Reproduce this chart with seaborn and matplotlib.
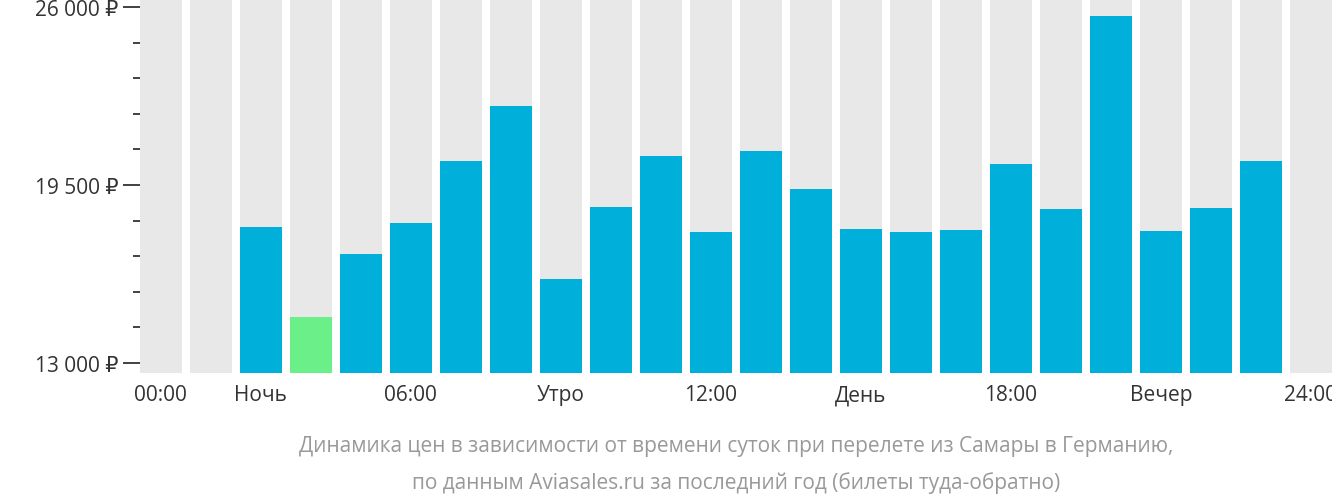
import numpy as np
import pandas as pd
import matplotlib
matplotlib.use('Agg')
import matplotlib.pyplot as plt
import seaborn as sns

plt.rcParams['font.family'] = ['Open Sans', 'DejaVu Sans']

hours = list(range(24))
prices = [np.nan, np.nan, 17960, 14690, 16970, 18100, 20380, 22400, 16050, 18690,
          20570, 17770, 20750, 19350, 17880, 17770, 17850, 20270, 18620, 25670,
          17810, 18650, 20380, np.nan]
cheapest_hour = 3
xlabels = ['00:00', 'Ночь', '06:00', 'Утро', '12:00', 'День', '18:00', 'Вечер', '24:00']
xlabel_pos = [0, 2, 5, 8, 11, 14, 17, 20, 23]
ymin, ymax = 12630, 26300

df = pd.DataFrame({'hour': hours, 'price': prices})
colors = ['#6bef88' if h == cheapest_hour else '#00b0da' for h in hours]

fig = plt.figure(figsize=(13.32, 5.02), dpi=100)
ax = fig.add_axes([0.105, 0.255, 0.895, 0.745])
sns.barplot(x=hours, y=[ymax - ymin] * 24, bottom=ymin, color='#e8e8e8', width=0.84,
            ax=ax, saturation=1)
sns.barplot(data=df, x='hour', y=df['price'] - ymin, bottom=ymin, hue='hour',
            palette=colors, width=0.84, ax=ax, legend=False, saturation=1)

ax.set_ylim(ymin, ymax)
ax.set_xlim(-0.42, 23.42)
ax.set_yticks([13000, 19500, 26000])
ax.set_yticklabels(['13 000 ₽', '19 500 ₽', '26 000 ₽'], fontsize=15, color='#333333')
ax.set_yticks(np.arange(13000, 26001, 1300), minor=True)
ax.tick_params(axis='y', which='major', length=12, width=1.3, color='#333333')
ax.tick_params(axis='y', which='minor', length=5, width=1.3, color='#333333')
ax.set_xticks(xlabel_pos)
ax.set_xticklabels(xlabels, fontsize=15, color='#333333')
ax.tick_params(axis='x', length=0, pad=8)
ax.set_xlabel('')
ax.set_ylabel('')
for s in ax.spines.values():
    s.set_visible(False)

fig.text(0.553, 0.1, 'Динамика цен в зависимости от времени суток при перелете из Самары в Германию,',
         ha='center', fontsize=15, color='#999999')
fig.text(0.553, 0.025, 'по данным Aviasales.ru за последний год (билеты туда-обратно)',
         ha='center', fontsize=15, color='#999999')

fig.savefig('out.png', dpi=100)
